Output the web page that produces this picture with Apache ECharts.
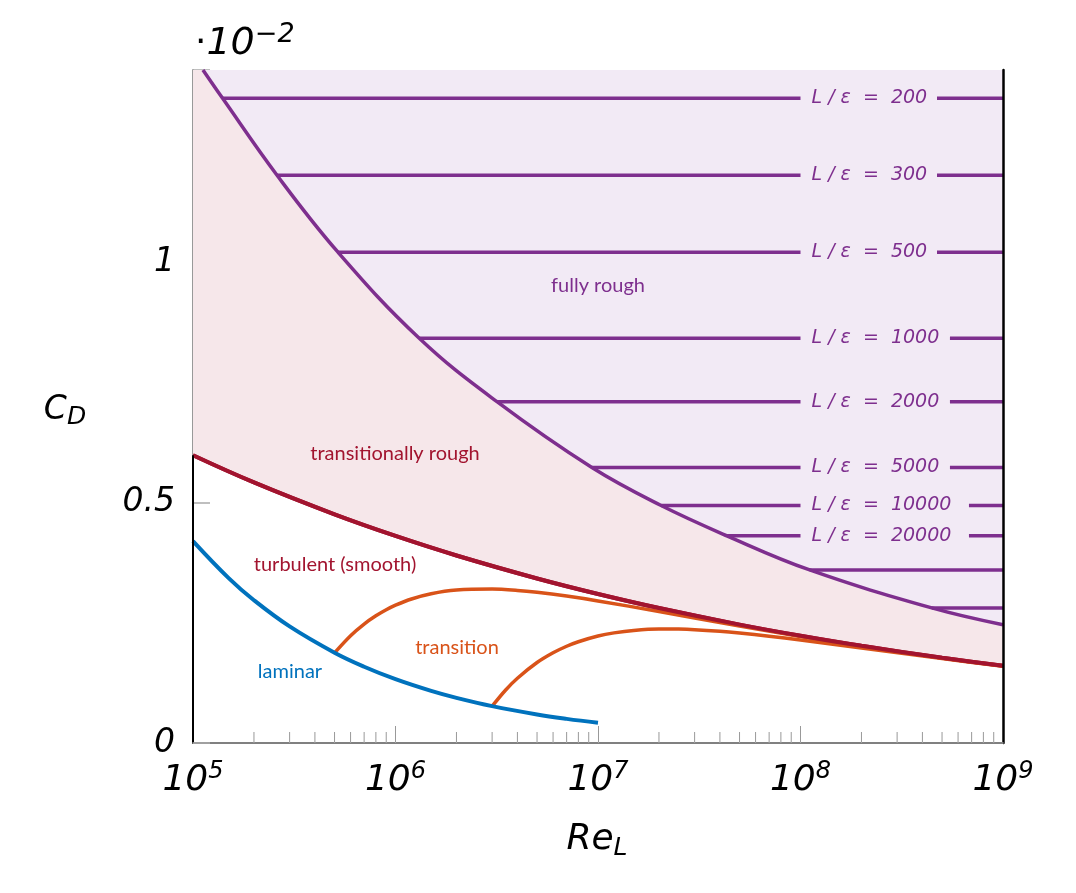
<!DOCTYPE html>
<html lang="en">
<head>
<meta charset="UTF-8">
<title>Flat plate drag coefficient</title>
<script src="https://cdn.jsdelivr.net/npm/echarts@6/dist/echarts.min.js"></script>
<style>html,body{margin:0;padding:0;background:#fff;}</style>
</head>
<body>
<div id="chart" style="width:1076px;height:893px;"></div>
<script>
// values: Reynolds number (x) and drag coefficient (y)
const laminarRe = [1e5, 1.5e5, 2e5, 3e5, 5e5, 7e5, 1e6, 1.5e6, 2e6, 3e6, 5e6, 7e6, 1e7];
const laminarCd = [0.0042, 0.00343, 0.00297, 0.002425, 0.001878, 0.001587, 0.001328, 0.001084, 0.000939, 0.000767, 0.000594, 0.000502, 0.00042];

const smoothRe = [1e5, 2e5, 5e5, 1e6, 2e6, 5e6, 1e7, 2e7, 5e7, 1e8, 2e8, 5e8, 1e9];
const smoothCd = [0.005985, 0.00542, 0.004756, 0.004307, 0.003901, 0.003423, 0.0031, 0.002808, 0.002463, 0.002231, 0.002021, 0.001773, 0.001606];

const trans1Re = [5e5, 6e5, 7e5, 8e5, 9e5, 1e6, 1.2e6, 1.5e6, 2e6, 3e6, 4e6, 5e6, 7e6, 1e7, 2e7, 3e7, 5e7, 1e8, 2e8, 5e8, 1e9];
const trans1Cd = [0.001876, 0.002233, 0.002475, 0.002646, 0.002772, 0.002867, 0.002996, 0.003105, 0.003181, 0.003201, 0.003174, 0.003135, 0.003056, 0.002956, 0.002736, 0.002601, 0.002434, 0.002217, 0.002014, 0.00177, 0.001605];

const trans2Re = [3e6, 3.5e6, 4e6, 5e6, 6e6, 7e6, 8e6, 1e7, 1.2e7, 1.5e7, 2e7, 2.5e7, 3e7, 4e7, 5e7, 7e7, 1e8, 2e8, 5e8, 1e9];
const trans2Cd = [0.000766, 0.001103, 0.001348, 0.001674, 0.001877, 0.002013, 0.002107, 0.002226, 0.002291, 0.002342, 0.002371, 0.002369, 0.002358, 0.002324, 0.002288, 0.002223, 0.002144, 0.001977, 0.001756, 0.001597];

// onset of fully rough flow
const roughRe = [1.12e5, 1.40e5, 2.6e5, 5.2e5, 1.31e6, 3.17e6, 9.33e6, 2.05e7, 4.33e7, 1.11e8, 4.45e8, 1e9];
const roughCd = [0.0140, 0.01341, 0.01181, 0.01021, 0.00842, 0.0071, 0.00573, 0.00494, 0.00431, 0.0036, 0.00281, 0.00246];

// constant L/eps lines in the fully rough region (broken where the label sits)
const levelNames = ['200', '300', '500', '1000', '2000', '5000', '10000', '20000', null, null];
const levelStartRe = [1.40e5, 2.6e5, 5.2e5, 1.31e6, 3.17e6, 9.33e6, 2.05e7, 4.33e7, 1.11e8, 4.45e8];
const levelCd = [0.01341, 0.01181, 0.01021, 0.00842, 0.0071, 0.00573, 0.00494, 0.00431, 0.0036, 0.00281];
const levelGapStartRe = 1e8;
const levelGapEndRe = [4.72e8, 4.72e8, 4.72e8, 5.47e8, 5.47e8, 5.47e8, 6.79e8, 6.79e8, null, null];

const minorTicks = [
  2e5, 3e5, 4e5, 5e5, 6e5, 7e5, 8e5, 9e5,
  2e6, 3e6, 4e6, 5e6, 6e6, 7e6, 8e6, 9e6,
  2e7, 3e7, 4e7, 5e7, 6e7, 7e7, 8e7, 9e7,
  2e8, 3e8, 4e8, 5e8, 6e8, 7e8, 8e8, 9e8
];

const xMin = 1e5, xMax = 1e9, yMin = 0, yMax = 0.014;

const PURPLE = '#7E2F8E', RED = '#A2142F', ORANGE = '#D95319', BLUE = '#0072BD';
const PURPLE_FILL = '#F2EAF5', RED_FILL = '#F6E7EA';
const MATH = 'DejaVu Sans';

const zip = (xs, ys) => xs.map((x, i) => [x, ys[i]]);

const chart = echarts.init(document.getElementById('chart'));

const series = [
  {
    name: 'turbulent (smooth)', type: 'line', data: zip(smoothRe, smoothCd),
    smooth: 0.4, symbol: 'none', z: 2,
    lineStyle: { color: RED, width: 4 },
    areaStyle: { color: RED_FILL, opacity: 1, origin: 'end' }
  },
  {
    name: 'fully rough', type: 'line', data: zip(roughRe, roughCd),
    smooth: 0.4, symbol: 'none', z: 3,
    lineStyle: { color: PURPLE, width: 3.5 },
    areaStyle: { color: PURPLE_FILL, opacity: 1, origin: 'end' }
  },
  {
    name: 'transition 1', type: 'line', data: zip(trans1Re, trans1Cd),
    smooth: 0.3, symbol: 'none', z: 4,
    lineStyle: { color: ORANGE, width: 3.5 }
  },
  {
    name: 'transition 2', type: 'line', data: zip(trans2Re, trans2Cd),
    smooth: 0.3, symbol: 'none', z: 4,
    lineStyle: { color: ORANGE, width: 3.5 }
  },
  {
    name: 'laminar', type: 'line', data: zip(laminarRe, laminarCd),
    smooth: 0.4, symbol: 'none', z: 5,
    lineStyle: { color: BLUE, width: 4, cap: 'butt' }
  },
  {
    // turbulent line again, over the orange curves where they merge
    name: 'turbulent top', type: 'line', data: zip(smoothRe, smoothCd),
    smooth: 0.4, symbol: 'none', z: 5,
    lineStyle: { color: RED, width: 4 }
  },
  {
    // black part of the left frame, below the pink region
    type: 'line', data: [[xMin, yMin], [xMin, smoothCd[0]]], clip: false,
    symbol: 'none', z: 6, lineStyle: { color: '#000', width: 2 }
  },
  {
    type: 'custom', data: minorTicks.map(v => [v, 0]), clip: false, silent: true, z: 1,
    renderItem: (params, api) => {
      const p = api.coord([api.value(0), 0]);
      return {
        type: 'line',
        shape: { x1: p[0], y1: p[1], x2: p[0], y2: p[1] - 11 },
        style: { stroke: '#999', lineWidth: 1 }
      };
    }
  }
];

levelCd.forEach((cd, i) => {
  const data = levelGapEndRe[i]
    ? [[levelStartRe[i], cd], [levelGapStartRe, cd], '-', [levelGapEndRe[i], cd], [xMax, cd]]
    : [[levelStartRe[i], cd], [xMax, cd]];
  series.push({
    type: 'line', data: data, connectNulls: false,
    symbol: 'none', z: 6, lineStyle: { color: PURPLE, width: 3.5, cap: 'butt' }
  });
});

series.push({
  type: 'scatter', silent: true, z: 7, symbolSize: 0.01,
  itemStyle: { color: PURPLE, opacity: 1 },
  data: levelCd.map((cd, i) => levelNames[i] ? { value: [levelGapStartRe, cd], name: 'L / ε  =  ' + levelNames[i] } : null).filter(d => d),
  label: {
    show: true, position: 'right', distance: 0, formatter: '{b}', opacity: 1,
    color: PURPLE, fontFamily: MATH, fontStyle: 'italic', fontSize: 19,
    padding: [0, 0, 0, 11]
  }
});

const regionText = (text, x, y, color) => ({
  type: 'text', x: x, y: y, z: 100,
  style: {
    text: text, fill: color, font: '20px Lato',
    align: 'center', verticalAlign: 'middle', textAlign: 'center', textVerticalAlign: 'middle'
  }
});

chart.setOption({
  animation: false,
  backgroundColor: '#fff',
  grid: { left: 193, right: 73, top: 70, bottom: 150, containLabel: false },
  xAxis: [
    {
      type: 'log', logBase: 10, min: xMin, max: xMax, splitNumber: 4,
      axisLine: { lineStyle: { color: '#000', width: 2 } },
      axisTick: { inside: true, length: 17, lineStyle: { color: '#999', width: 1 } },
      splitLine: { show: false },
      minorTick: { show: false },
      axisLabel: {
        margin: 17, color: '#000',
        formatter: v => '{b|10}{s|' + Math.round(Math.log10(v)) + '}',
        rich: {
          b: { fontFamily: MATH, fontStyle: 'italic', fontSize: 36, lineHeight: 42, color: '#000' },
          s: { fontFamily: MATH, fontStyle: 'italic', fontSize: 24, lineHeight: 23, verticalAlign: 'top', color: '#000' }
        }
      }
    },
    {
      type: 'log', logBase: 10, min: xMin, max: xMax, position: 'top', z: 8,
      axisLine: { show: true, lineStyle: { color: '#aaa', width: 1.5 } },
      axisTick: { show: false }, axisLabel: { show: false }, splitLine: { show: false }
    }
  ],
  yAxis: [
    {
      type: 'value', min: yMin, max: yMax, interval: 0.005,
      axisLine: { show: true, lineStyle: { color: '#999', width: 2 } },
      axisTick: { show: true, inside: true, length: 17, lineStyle: { color: '#aaa', width: 1.5 } },
      splitLine: { show: false },
      axisLabel: {
        margin: 18, color: '#000', fontFamily: MATH, fontStyle: 'italic', fontSize: 33,
        formatter: v => {
          const k = Math.round(v * 1000);
          return k % 5 === 0 && k <= 10 ? String(k / 10) : '';
        }
      }
    },
    {
      type: 'value', min: yMin, max: yMax, position: 'right', z: 8,
      axisLine: { show: true, lineStyle: { color: '#000', width: 2.5 } },
      axisTick: { show: false }, axisLabel: { show: false }, splitLine: { show: false }
    }
  ],
  series: series,
  graphic: [
    {
      type: 'text', x: 195, y: 44, z: 100,
      style: {
        text: '{d|·}{b|10}{s|−2}', align: 'left', verticalAlign: 'middle',
        textAlign: 'left', textVerticalAlign: 'middle',
        rich: {
          d: { fontFamily: MATH, fontSize: 36, lineHeight: 46, fill: '#000', color: '#000' },
          b: { fontFamily: MATH, fontStyle: 'italic', fontSize: 38, lineHeight: 46, fill: '#000', color: '#000' },
          s: { fontFamily: MATH, fontStyle: 'italic', fontSize: 27, lineHeight: 27, verticalAlign: 'top', fill: '#000', color: '#000' }
        }
      }
    },
    {
      type: 'text', x: 65, y: 410, z: 100,
      style: {
        text: '{c|C}{s|D}', align: 'center', verticalAlign: 'middle',
        textAlign: 'center', textVerticalAlign: 'middle',
        rich: {
          c: { fontFamily: MATH, fontStyle: 'italic', fontSize: 33, lineHeight: 40, fill: '#000', color: '#000' },
          s: { fontFamily: MATH, fontStyle: 'italic', fontSize: 25, lineHeight: 25, verticalAlign: 'bottom', fill: '#000', color: '#000' }
        }
      }
    },
    {
      type: 'text', x: 597, y: 840, z: 100,
      style: {
        text: '{c|Re}{s|L}', align: 'center', verticalAlign: 'middle',
        textAlign: 'center', textVerticalAlign: 'middle',
        rich: {
          c: { fontFamily: MATH, fontStyle: 'italic', fontSize: 36, lineHeight: 42, fill: '#000', color: '#000' },
          s: { fontFamily: MATH, fontStyle: 'italic', fontSize: 25, lineHeight: 25, verticalAlign: 'bottom', fill: '#000', color: '#000' }
        }
      }
    },
    regionText('fully rough', 598, 286, PURPLE),
    regionText('transitionally rough', 395, 454, RED),
    regionText('turbulent (smooth)', 335, 565, RED),
    regionText('transition', 457, 648, ORANGE),
    regionText('laminar', 290, 672, BLUE)
  ]
});
</script>
</body>
</html>
